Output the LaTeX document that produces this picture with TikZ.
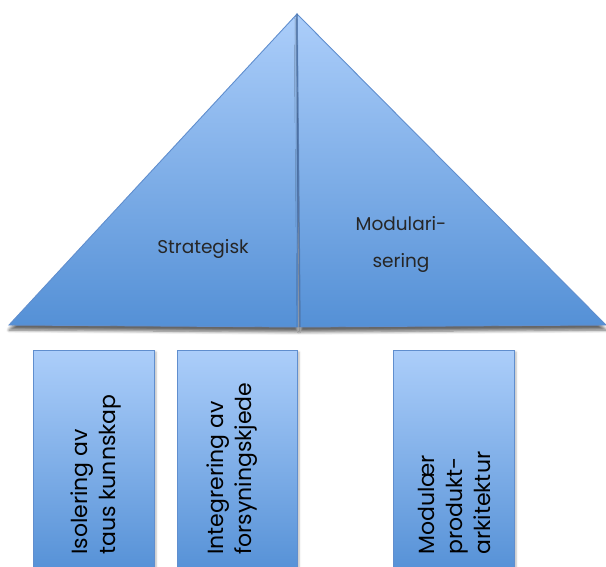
\documentclass[tikz,border=0pt]{standalone}
\usepackage{fontspec}
\setmainfont{Poppins}
\usetikzlibrary{shadows.blur}
\definecolor{toplight}{RGB}{172,206,250}
\definecolor{bottomblue}{RGB}{84,144,214}
\definecolor{edgeblue}{RGB}{96,142,206}
\tikzset{
  roof/.style={top color=toplight, bottom color=bottomblue, draw=edgeblue,
    line width=0.9pt, line join=miter,
    blur shadow={shadow xshift=0pt, shadow yshift=-5pt, shadow blur steps=6, shadow blur radius=3pt, shadow opacity=60}},
  pillar/.style={top color=toplight, bottom color=bottomblue, draw=edgeblue,
    line width=0.9pt,
    blur shadow={shadow xshift=2pt, shadow yshift=-2pt, shadow blur steps=4, shadow blur radius=2pt, shadow opacity=30}},
  rooflabel/.style={font=\fontsize{18.5}{22}\selectfont, text=black!85, inner sep=0pt},
  pillarlabel/.style={font=\fontsize{22}{28}\selectfont, text=black, align=left,
    rotate=90, anchor=west, inner sep=0pt},
}
\begin{document}
\begin{tikzpicture}[x=1pt, y=-1pt]
  \useasboundingbox (0,0) rectangle (606,567);
  \clip (0,0) rectangle (606,567);

  % roof corners
  \coordinate (apex) at (297,14);
  \coordinate (leftfoot) at (9,325);
  \coordinate (seamfoot) at (298,327);
  \coordinate (rightfoot) at (606,325);
  \coordinate (rightseam) at (300,327);

  % the two halves of the roof
  \path[roof] (apex) -- (leftfoot) -- (seamfoot) -- cycle;
  \path[roof] (apex) -- (rightfoot) -- (rightseam) -- cycle;
  \draw[edgeblue!70!black, line width=1.5pt, opacity=0.5] (apex) -- (rightseam);

  \node[rooflabel] (strategisk) at (203,249) {Strategisk};
  \node[rooflabel] (modul1) at (401,224) {Modulari-};
  \node[rooflabel] (modul2) at (401,263) {sering};

  % the three pillars under the roof
  \path[pillar] (33,350) rectangle (154,575);
  \path[pillar] (177,350) rectangle (297,575);
  \path[pillar] (393,350) rectangle (514,575);

  \node[pillarlabel] (isolering) at (96,555) {Isolering av\\taus kunnskap};
  \node[pillarlabel] (integrering) at (232,555) {Integrering av\\forsyningskjede};
  \node[pillarlabel] (modulaer) at (454,555) {Modulær\\produkt-\\arkitektur};
\end{tikzpicture}
\end{document}
